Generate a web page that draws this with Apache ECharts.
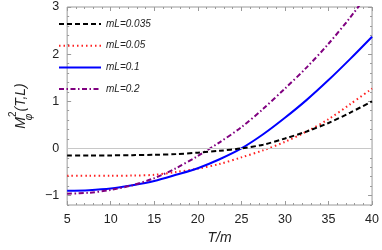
<!DOCTYPE html>
<html><head><meta charset="utf-8">
<script src="https://cdn.jsdelivr.net/npm/echarts@6/dist/echarts.min.js"></script>
<style>html,body{margin:0;padding:0;background:#fff}#c{width:382px;height:250px}</style>
</head><body><div id="c"></div>
<script>
var T = [5, 7.5, 10, 12.5, 15, 17.5, 20, 22.5, 25, 27.5, 30, 32.5, 35, 37.5, 40];
var mL035 = [-0.15, -0.15, -0.148, -0.143, -0.135, -0.12, -0.09, -0.05, 0.0, 0.08, 0.21, 0.36, 0.54, 0.76, 1.0];
var mL05 = [-0.58, -0.58, -0.58, -0.575, -0.56, -0.5, -0.43, -0.33, -0.19, -0.04, 0.14, 0.36, 0.62, 0.94, 1.27];
var mL1 = [-0.9, -0.885, -0.85, -0.78, -0.69, -0.56, -0.42, -0.23, 0.0, 0.3, 0.65, 1.03, 1.45, 1.9, 2.37];
var mL2 = [-0.96, -0.94, -0.88, -0.78, -0.63, -0.42, -0.16, 0.13, 0.45, 0.84, 1.27, 1.72, 2.22, 2.78, 3.4];
var names = ['mL=0.035', 'mL=0.05', 'mL=0.1', 'mL=0.2'];
var xTicks = [5, 10, 15, 20, 25, 30, 35, 40];
var yTicks = [-1, 0, 1, 2, 3];

function pts(v){ return T.map(function(t,i){ return [t, v[i]]; }); }
var frame = '#9a9a9a';
var lblFont = {color:'#222', fontSize:12.5, fontFamily:'Liberation Sans'};
function fmtY(v){ return v < 0 ? '\u2212' + Math.abs(v) : String(v); }

var xBase = {type:'value', min:5, max:40, interval:5,
  axisLine:{show:false, onZero:false}, splitLine:{show:false},
  axisTick:{show:true, inside:true, length:4, lineStyle:{color:frame}},
  minorTick:{show:true, splitNumber:5, length:2, lineStyle:{color:frame}},
  minorSplitLine:{show:false}};
function yAx(pos, major){
  var a = {type:'value', min:-1.2, max:3, position:pos,
    axisLine:{show:false, onZero:false}, splitLine:{show:false}, axisLabel:{show:false}};
  if (major) a.axisTick = {show:true, inside:true, length:4, customValues:yTicks, lineStyle:{color:frame}};
  else { a.interval = 0.2; a.axisTick = {show:true, inside:true, length:2, lineStyle:{color:frame}}; }
  return a;
}
var y0 = yAx('left', true);
y0.axisLabel = Object.assign({show:true, customValues:yTicks, margin:8, formatter:fmtY}, lblFont);
y0.name = '{i|M}{sub|\u03c6}{sup|2}{i|(T,L)}';
y0.nameLocation = 'middle'; y0.nameGap = 33; y0.nameRotate = 90;
y0.nameTextStyle = {rich:{
  i:{fontSize:14, fontStyle:'italic', fontFamily:'Liberation Sans', color:'#222'},
  sub:{fontSize:10, fontStyle:'italic', fontFamily:'Liberation Sans', color:'#222', verticalAlign:'bottom', padding:[0,0,-6,0], width:0},
  sup:{fontSize:10, fontFamily:'Liberation Sans', color:'#222', verticalAlign:'top', padding:[-6,0,0,0]}
}};

var chart = echarts.init(document.getElementById('c'));
chart.setOption({
  animation:false,
  grid:{left:47, right:8, top:7, bottom:41, show:true, borderColor:frame, borderWidth:1},
  legend:{
    data:names, orient:'vertical', left:53, top:14, itemWidth:42, itemHeight:10, itemGap:11.7,
    itemStyle:{opacity:0},
    textStyle:{fontSize:10, fontStyle:'italic', fontFamily:'Liberation Sans', color:'#222', padding:[0,0,0,0]}
  },
  xAxis:[
    Object.assign({}, xBase, {position:'bottom',
      axisLabel:Object.assign({show:true, margin:8}, lblFont),
      name:'T/m', nameLocation:'middle', nameGap:26,
      nameTextStyle:{fontSize:14, fontStyle:'italic', fontFamily:'Liberation Sans', color:'#222'}}),
    Object.assign({}, xBase, {position:'top', axisLabel:{show:false}})
  ],
  yAxis:[y0, yAx('left', false), yAx('right', true), yAx('right', false)],
  series:[
    {name:names[0], type:'line', data:pts(mL035), smooth:0.3, symbol:'none', z:5,
      lineStyle:{color:'#000', width:2, type:[5,3]}, itemStyle:{color:'#000'},
      markLine:{silent:true, symbol:'none', label:{show:false}, animation:false,
        lineStyle:{color:'#c8c8c8', width:1, type:'solid'}, data:[{yAxis:0}]}},
    {name:names[1], type:'line', data:pts(mL05), smooth:0.3, symbol:'none',
      lineStyle:{color:'#ff2020', width:2, type:[1.5,3]}, itemStyle:{color:'#ff2020'}},
    {name:names[2], type:'line', data:pts(mL1), smooth:0.3, symbol:'none',
      lineStyle:{color:'#0000ff', width:2, type:'solid'}, itemStyle:{color:'#0000ff'}},
    {name:names[3], type:'line', data:pts(mL2), smooth:0.3, symbol:'none',
      lineStyle:{color:'#800080', width:2, type:[5,2.5,1.5,2.5]}, itemStyle:{color:'#800080'}}
  ]
});
</script></body></html>
